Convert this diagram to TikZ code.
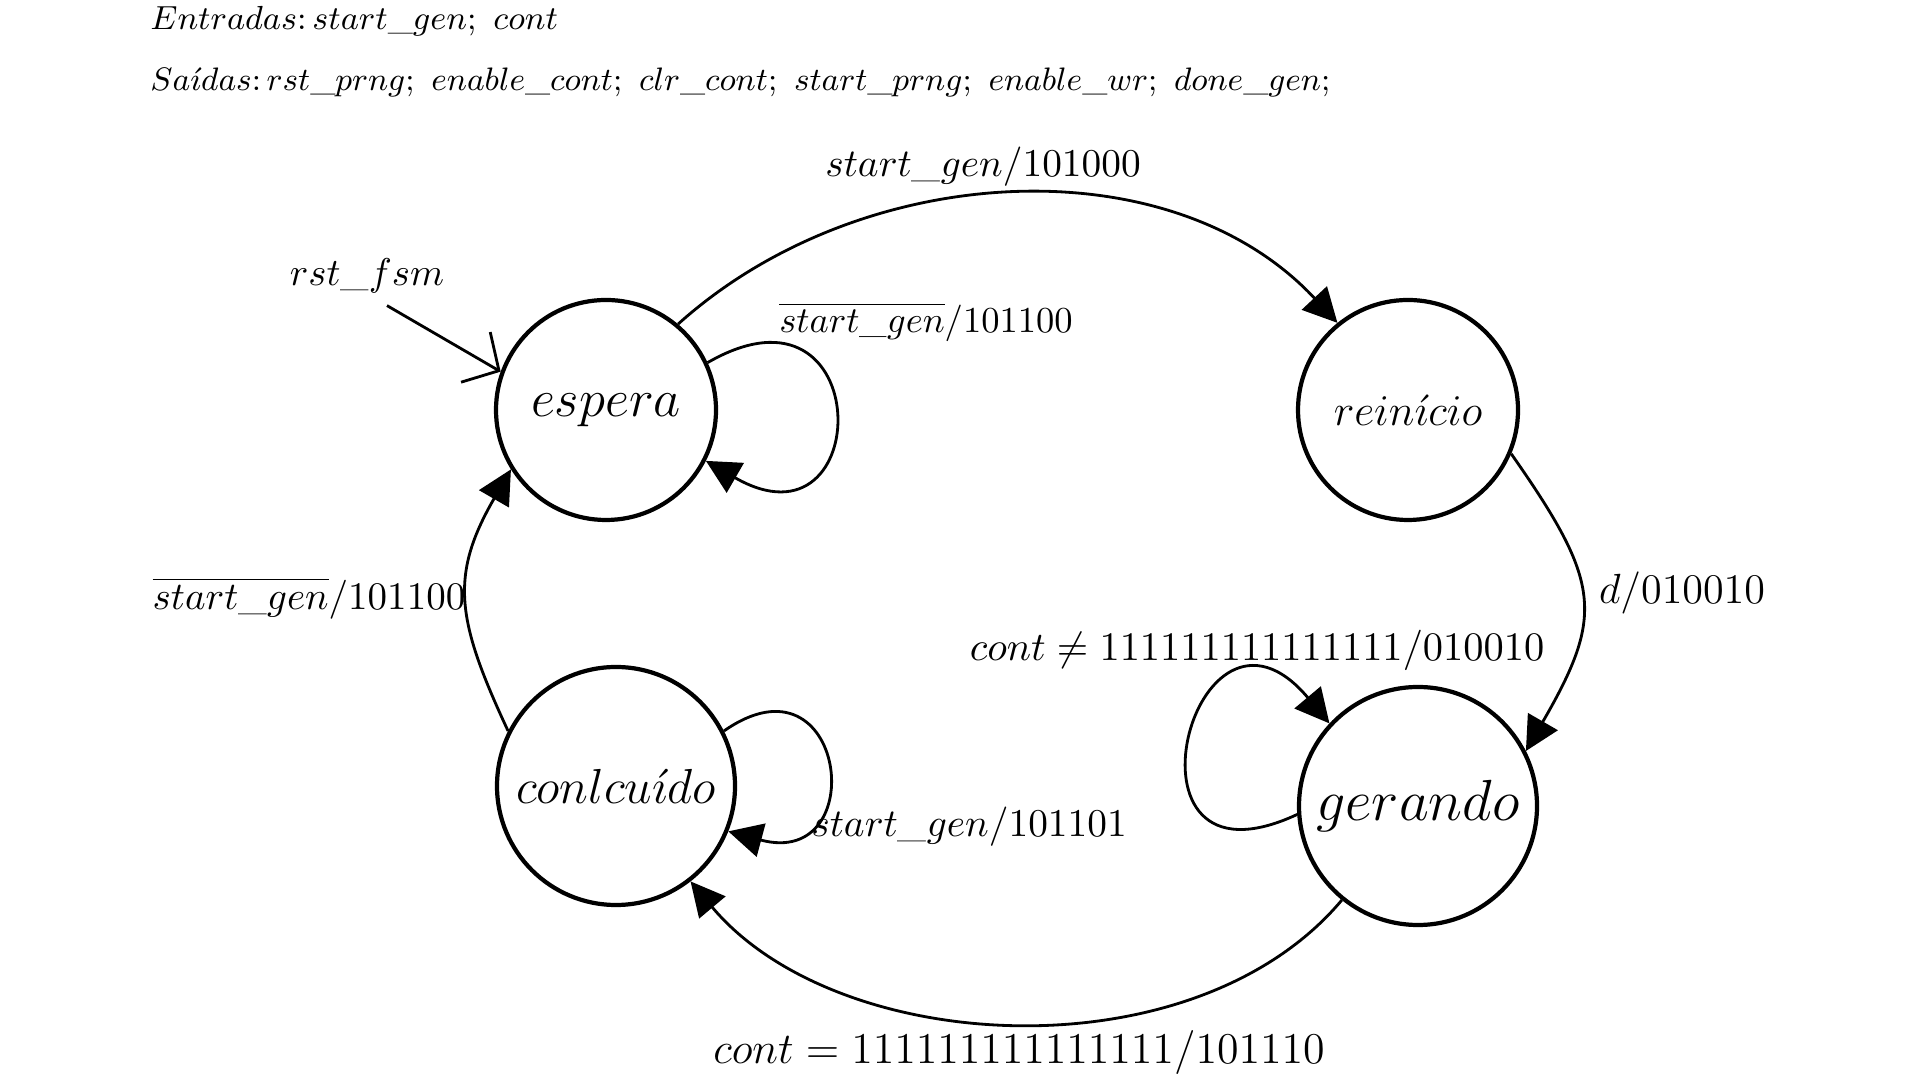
\documentclass[tikz,border=0pt]{standalone}
\usepackage{fix-cm}
\usepackage{amsmath}
\usepackage{amssymb}
\usetikzlibrary{arrows.meta}

\begin{document}
\begin{tikzpicture}[
        state/.style={circle,draw,line width=1.2pt,inner sep=0pt},
        trans/.style={line width=0.8pt,-{Triangle[length=3.4mm,width=3.4mm]}},
        lbl/.style={inner sep=1pt,font=\fontsize{11.2}{14}\selectfont}]
        \useasboundingbox (0,0) rectangle (19.2,10.8);
        % header
        \node[anchor=west,font=\fontsize{9.5}{12}\selectfont] (inputs) at (1.38,10.59) {$Entradas{:}\,start\_gen;\ cont$};
        \node[anchor=west,font=\fontsize{9.25}{12}\selectfont] (outputs) at (1.38,9.98) {$Sa\acute{\imath}das{:}\,rst\_prng;\ enable\_cont;\ clr\_cont;\ start\_prng;\ enable\_wr;\ done\_gen;$};
        % states
        \node[state,minimum size=2.2cm,font=\fontsize{15}{18}\selectfont] (espera) at (6.06,6.70) {$espera$};
        \node[state,minimum size=2.2cm,font=\fontsize{12.5}{15}\selectfont] (reinicio) at (14.08,6.70) {$rein\acute{\imath}cio$};
        \node[state,minimum size=2.38cm,font=\fontsize{14}{17}\selectfont] (concluido) at (6.16,2.94) {$conlcu\acute{\imath}do$};
        \node[state,minimum size=2.38cm,font=\fontsize{16.5}{20}\selectfont] (gerando) at (14.18,2.74) {$gerando$};
        % reset
        \node[font=\fontsize{11}{14}\selectfont] (rst) at (3.67,8.04) {$rst\_fsm$};
        \draw[line width=0.8pt,-{Straight Barb[length=2.7mm,width=5.8mm]}] ([xshift=2mm]rst.south) -- (espera.160);
        % transitions
        \draw[trans] (espera.50) to[out=42,in=133,looseness=0.95] (reinicio.129);
        \draw[trans] (espera.25) to[out=30,in=-30,looseness=5.1] (espera.-27);
        \draw[trans] (reinicio.-23) to[out=-55,in=60,looseness=1.35] (gerando.27);
        \draw[trans] (gerando.184) to[out=205,in=130,looseness=5.6] (gerando.137);
        \draw[trans] (gerando.231) to[out=-130,in=-50,looseness=0.9] (concluido.-52);
        \draw[trans] (concluido.27) to[out=35,in=-15,looseness=3.8] (concluido.-22);
        \draw[trans] (concluido.153) to[out=115,in=-120,looseness=1.2] (espera.212);
        % labels
        \node[lbl] (lblgo) at (9.83,9.13) {$start\_gen/101000$};
        \node[lbl,font=\fontsize{10.4}{13}\selectfont] (lblwait) at (9.26,7.58) {$\overline{start\_gen}/101100$};
        \node[lbl,font=\fontsize{11.1}{14}\selectfont] (lblback) at (3.09,4.82) {$\overline{start\_gen}/101100$};
        \node[lbl,font=\fontsize{12}{14}\selectfont] (lbld) at (16.82,4.87) {$d/010010$};
        \node[lbl,font=\fontsize{11.5}{14}\selectfont] (lblcount) at (12.57,4.30) {$cont \neq 111111111111111/010010$};
        \node[lbl] (lbldone) at (9.69,2.53) {$start\_gen/101101$};
        \node[lbl,font=\fontsize{12.5}{15}\selectfont] (lblend) at (10.19,0.27) {$cont = 111111111111111/101110$};
    \end{tikzpicture}
\end{document}
